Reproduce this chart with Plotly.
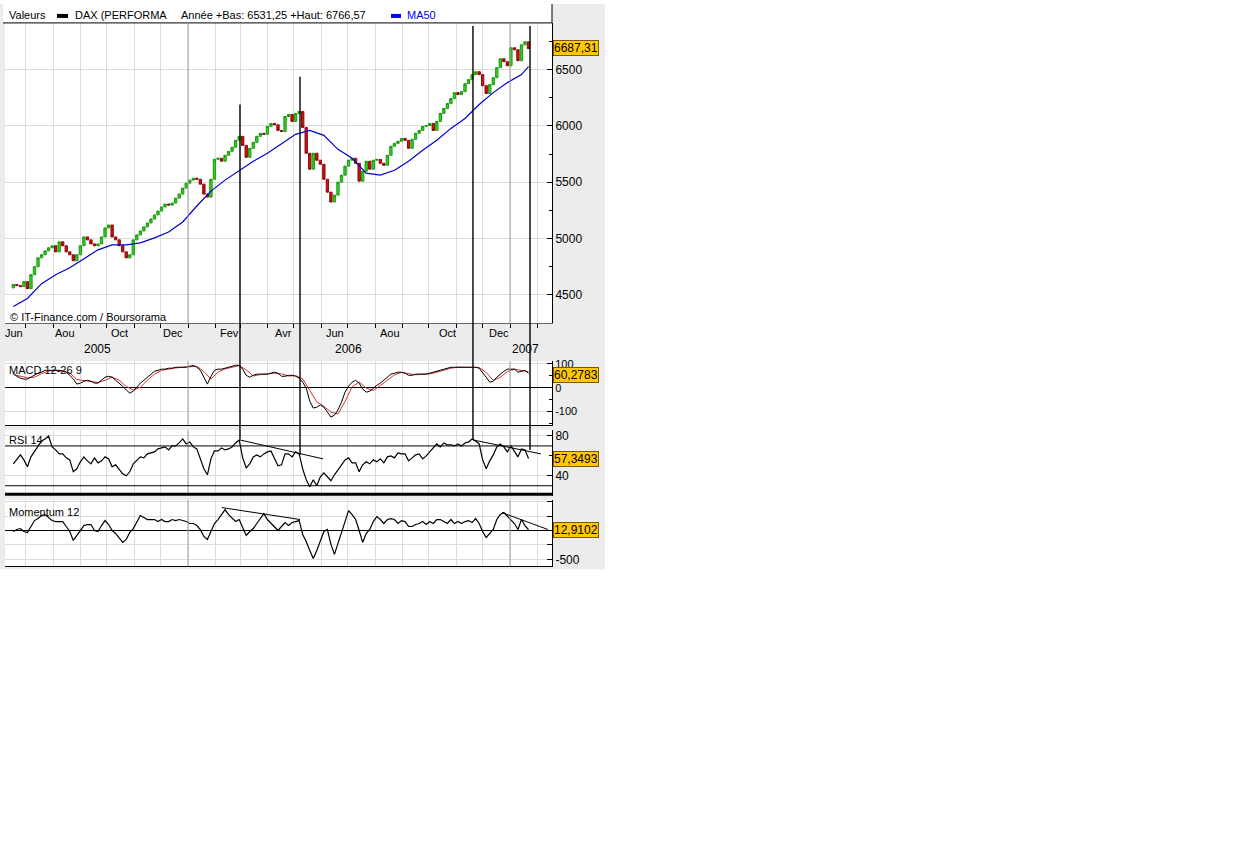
import plotly.graph_objects as go
import pandas as pd

W, H = 1235, 854

# ---------------- data ----------------
start_date = "2005-06-17"
step = "4D"
first_open = 4560

closes = [4590, 4580, 4571, 4615, 4553, 4677, 4748, 4827, 4854, 4889,
          4916, 4934, 4880, 4969, 4934, 4880, 4854, 4801, 4854, 4934,
          5013, 4987, 4951, 4934, 4951, 5013, 5093, 5119, 5013, 4987,
          4934, 4880, 4827, 4854, 4987, 5031, 5066, 5102, 5137, 5172,
          5208, 5243, 5279, 5305, 5296, 5314, 5358, 5394, 5447, 5491,
          5518, 5535, 5526, 5482, 5394, 5367, 5526, 5703, 5712, 5686,
          5739, 5774, 5810, 5872, 5907, 5827, 5721, 5801, 5854, 5907,
          5934, 5925, 5996, 6022, 6010, 5960, 5951, 6084, 6102, 6040,
          6111, 6128, 5987, 5757, 5615, 5757, 5695, 5659, 5526, 5411,
          5323, 5385, 5500, 5562, 5642, 5695, 5712, 5668, 5509, 5597,
          5686, 5615, 5695, 5702, 5668, 5650, 5739, 5819, 5845, 5863,
          5889, 5872, 5801, 5881, 5934, 5960, 5996, 6004, 6022, 5960,
          6040, 6111, 6155, 6199, 6243, 6296, 6279, 6305, 6376, 6412,
          6456, 6482, 6456, 6358, 6288, 6367, 6429, 6518, 6597, 6571,
          6535, 6695, 6677, 6580, 6721, 6748, 6687.31]

ma50 = [4394, 4465, 4597, 4677, 4739, 4819, 4898, 4942, 4942, 4960,
        5004, 5057, 5146, 5288, 5420, 5518, 5606, 5686, 5757, 5845,
        5925, 5960, 5916, 5792, 5712, 5580, 5562, 5606, 5686, 5783,
        5872, 5978, 6066, 6190, 6296, 6385, 6456, 6527]

macd = [61, 48, 40, 36, 36, 44, 52, 61, 65, 73,
        73, 73, 73, 73, 69, 65, 52, 36, 15, 19,
        27, 31, 27, 19, 19, 31, 44, 48, 44, 31,
        19, 6, -10, -23, -15, 2, 19, 31, 44, 57,
        69, 73, 78, 78, 82, 82, 86, 86, 86, 86,
        90, 94, 86, 73, 44, 15, 48, 73, 78, 78,
        82, 86, 90, 94, 94, 78, 52, 44, 52, 57,
        57, 57, 57, 61, 65, 61, 48, 48, 52, 52,
        48, 40, 23, -2, -57, -86, -82, -73, -82, -103,
        -124, -116, -94, -61, -19, 6, 23, 31, 19, -6,
        -19, -15, -2, 10, 19, 31, 44, 57, 61, 65,
        65, 61, 52, 52, 57, 57, 57, 57, 61, 65,
        69, 73, 78, 82, 86, 86, 86, 86, 86, 86,
        86, 86, 82, 65, 44, 23, 27, 44, 57, 69,
        78, 78, 78, 65, 69, 73, 60.28]

signal = [55, 50, 42, 44, 59, 70, 73, 71, 62, 34,
          30, 28, 22, 31, 45, 31, 5, -10, 2, 31,
          57, 73, 79, 83, 86, 87, 90, 68, 36, 66,
          79, 86, 93, 75, 49, 55, 57, 61, 58, 49,
          51, 37, -12, -60, -79, -103, -111, -58, 3, 24,
          -2, -12, 9, 31, 54, 64, 59, 54, 57, 58,
          65, 73, 82, 86, 86, 86, 85, 64, 31, 43,
          68, 78, 71, 67]

rsi = [52, 57, 61, 56, 49, 59, 64, 69, 75, 77,
       80, 69, 66, 62, 62, 58, 56, 44, 47, 54,
       59, 55, 52, 58, 53, 55, 59, 57, 49, 51,
       47, 42, 40, 44, 52, 56, 59, 58, 62, 63,
       64, 67, 68, 69, 66, 70, 70, 73, 77, 72,
       74, 69, 67, 57, 47, 41, 57, 65, 65, 68,
       66, 67, 69, 73, 76, 58, 48, 52, 59, 61,
       59, 62, 64, 65, 57, 50, 51, 62, 62, 59,
       64, 62, 47, 36, 29, 36, 30, 39, 43, 39,
       35, 41, 46, 52, 56, 58, 53, 53, 44, 51,
       54, 52, 56, 54, 57, 53, 59, 60, 58, 63,
       62, 62, 55, 58, 61, 62, 57, 60, 64, 69,
       72, 69, 73, 71, 71, 70, 72, 70, 73, 74,
       77, 75, 72, 56, 47, 55, 61, 69, 72, 69,
       64, 70, 64, 59, 67, 66, 57.35]

momentum = [-17, 17, 34, -17, -34, 69, 172, 207, 259, 276,
            224, 172, 155, 155, 155, 69, -17, -172, -86, 0,
            86, 103, 103, 0, -17, 86, 172, 103, 0, -52,
            -121, -207, -155, -34, 34, 138, 259, 224, 190, 190,
            190, 155, 190, 155, 155, 190, 172, 190, 172, 155,
            121, 121, 86, 17, -103, -155, -17, 121, 190, 276,
            362, 276, 207, 155, 190, 34, -86, -17, 34, 121,
            207, 293, 190, 121, 69, 0, 69, 138, 86, 138,
            155, 172, -69, -190, -345, -483, -345, -190, -17, 17,
            -241, -414, -224, -17, 190, 345, 276, 190, 0, -207,
            -52, 17, 155, 241, 190, 121, 190, 207, 190, 121,
            172, 155, 69, 69, 103, 121, 155, 103, 155, 121,
            190, 190, 155, 121, 190, 121, 155, 121, 155, 172,
            138, 207, 121, -17, -121, -52, 17, 190, 276, 310,
            241, 190, 121, 17, 190, 86, 12.91]

last_price_txt = "6687,31"
last_macd_txt = "60,2783"
last_rsi_txt = "57,3493"
last_mom_txt = "12,9102"

month_labels = ["Jun", "Aou", "Oct", "Dec", "Fev", "Avr", "Jun", "Aou", "Oct", "Dec"]
month_label_dates = ["2005-06-18", "2005-08-15", "2005-10-15", "2005-12-15", "2006-02-17",
                     "2006-04-19", "2006-06-17", "2006-08-18", "2006-10-22", "2006-12-20"]
year_labels = ["2005", "2006", "2007"]
year_label_dates = ["2005-09-20", "2006-07-02", "2007-01-18"]

# ---------------- derived inputs for the library ----------------
dates = pd.date_range(start_date, periods=len(closes), freq=step)
opens = [first_open] + closes[:-1]
highs = [max(o, c) for o, c in zip(opens, closes)]
lows = [min(o, c) for o, c in zip(opens, closes)]
ma_idx = list(range(0, len(dates), 4)) + [len(dates) - 1]
ma_dates = [dates[i] for i in ma_idx]
sig_dates = dates[::2]

X_RANGE = ["2005-06-07 14:00", "2007-02-17 14:00"]


def py(p):
    return 1 - p / H


def px(p):
    return p / W


def ydom(top, bot):
    return [1 - bot / H, 1 - top / H]


fig = go.Figure()

fig.add_trace(go.Candlestick(
    x=dates, open=opens, high=highs, low=lows, close=closes,
    increasing=dict(line=dict(color="#1c9a12", width=1), fillcolor="#33d11f"),
    decreasing=dict(line=dict(color="#8c0a0a", width=1), fillcolor="#d01010"),
    whiskerwidth=0, xaxis="x", yaxis="y", hoverinfo="skip"))
fig.add_trace(go.Scatter(x=ma_dates, y=ma50, mode="lines",
                         line=dict(color="#0000cc", width=1.2), xaxis="x", yaxis="y"))

fig.add_trace(go.Scatter(x=sig_dates, y=signal, mode="lines",
                         line=dict(color="#cc3333", width=1), xaxis="x2", yaxis="y2"))
fig.add_trace(go.Scatter(x=dates, y=macd, mode="lines",
                         line=dict(color="#000000", width=1), xaxis="x2", yaxis="y2"))

fig.add_trace(go.Scatter(x=dates, y=rsi, mode="lines",
                         line=dict(color="#000000", width=1.2), xaxis="x3", yaxis="y3"))
fig.add_trace(go.Scatter(x=dates, y=momentum, mode="lines",
                         line=dict(color="#000000", width=1.2), xaxis="x4", yaxis="y4"))

GRID = "#dcdcdc"
common_x = dict(type="date", range=X_RANGE, showgrid=True, gridcolor=GRID, gridwidth=1,
                dtick="M1", tick0="2005-06-01", zeroline=False, domain=[px(5), px(552)],
                showticklabels=False, fixedrange=True)
common_y = dict(side="right", ticks="inside", ticklen=5, tickcolor="#000",
                showgrid=True, gridcolor=GRID, showline=True, linecolor="#000",
                tickfont=dict(size=12), fixedrange=True)

layout = dict(
    width=W, height=H, autosize=False,
    margin=dict(l=0, r=0, t=0, b=0),
    paper_bgcolor="#ffffff", plot_bgcolor="#ffffff",
    showlegend=False, hovermode=False, boxgap=0.05,
    font=dict(family="Liberation Sans, Arial, sans-serif", size=11, color="#000"),
    xaxis=dict(**common_x, anchor="y", ticks="outside", ticklen=4, tickcolor="#000",
               showline=True, linecolor="#666", rangeslider=dict(visible=False)),
    xaxis2=dict(**common_x, anchor="y2", matches="x", ticks="", showline=True, linecolor="#000"),
    xaxis3=dict(**common_x, anchor="y3", matches="x", ticks="", showline=False),
    xaxis4=dict(**common_x, anchor="y4", matches="x", ticks="", showline=True, linecolor="#000"),
    yaxis=dict(**common_y, domain=ydom(19, 321), anchor="x", range=[4243, 6916],
               tickmode="linear", tick0=4500, dtick=500, zeroline=False,
               minor=dict(dtick=250, tick0=4500, ticks="inside", ticklen=3, tickcolor="#000", showgrid=False)),
    yaxis2=dict(**common_y, domain=ydom(359, 423), anchor="x2", range=[-157.5, 111],
                tickmode="array", tickvals=[-100, 0, 100], ticktext=["-100", "0", "100"],
                zeroline=True, zerolinecolor="#000", zerolinewidth=1,
                minor=dict(tickmode="array", tickvals=[-150, -50, 50], ticks="inside", ticklen=3,
                           tickcolor="#000", showgrid=False)),
    yaxis3=dict(**common_y, domain=ydom(428, 494), anchor="x3", range=[20, 86],
                tickmode="array", tickvals=[40, 80], ticktext=["40", "80"], zeroline=False,
                minor=dict(tickmode="array", tickvals=[60], ticks="inside", ticklen=3,
                           tickcolor="#000", showgrid=False)),
    yaxis4=dict(**common_y, domain=ydom(498, 565), anchor="x4", range=[-621, 534],
                tickmode="array", tickvals=[-500, -250, 0, 250, 500],
                ticktext=["-500", "", "", "", ""],
                zeroline=True, zerolinecolor="#000", zerolinewidth=1),
)
fig.update_layout(**layout)
fig.update_layout(yaxis2_tickfont=dict(size=11))

shapes = []
# grey chart background and white panels
shapes.append(dict(type="rect", xref="paper", yref="paper", x0=0, x1=px(605), y0=py(568), y1=1,
                   fillcolor="#ececec", line=dict(width=0), layer="below"))
for (l, t, r, b) in [(3, 0, 552, 19), (5, 19, 552, 321), (5, 359, 552, 423),
                     (5, 428, 552, 494), (5, 498, 552, 565)]:
    shapes.append(dict(type="rect", xref="paper", yref="paper", x0=px(l), x1=px(r),
                       y0=py(b), y1=py(t), fillcolor="#ffffff", line=dict(width=0), layer="below"))
# top border of main panel and right border of legend strip
shapes.append(dict(type="line", xref="paper", yref="paper", x0=px(3), x1=px(552), y0=py(19), y1=py(19),
                   line=dict(color="#000", width=1)))
shapes.append(dict(type="line", xref="paper", yref="paper", x0=px(552), x1=px(552), y0=py(19), y1=1,
                   line=dict(color="#000", width=1)))
# legend colour bars
shapes.append(dict(type="rect", xref="paper", yref="paper", x0=px(57), x1=px(68), y0=py(14), y1=py(10),
                   fillcolor="#000", line=dict(width=0)))
shapes.append(dict(type="rect", xref="paper", yref="paper", x0=px(391), x1=px(401), y0=py(14), y1=py(10),
                   fillcolor="#0000ff", line=dict(width=0)))
# darker year grid lines (per panel, in paper pixels)
for d in ["2006-01-01", "2007-01-01"]:
    for (t, b) in [(19, 321), (359, 423), (428, 494), (498, 565)]:
        shapes.append(dict(type="line", xref="x", yref="paper", x0=d, x1=d, y0=py(b), y1=py(t),
                           line=dict(color="#a0a0a0", width=1), layer="above"))
# RSI 70 / 30 lines and thick bottom
for lvl in [70, 30]:
    shapes.append(dict(type="line", xref="paper", yref="y3", x0=px(5), x1=px(552), y0=lvl, y1=lvl,
                       line=dict(color="#000", width=1)))
shapes.append(dict(type="line", xref="paper", yref="paper", x0=px(5), x1=px(552), y0=py(492.5), y1=py(492.5),
                   line=dict(color="#000", width=3)))
# hand-drawn trend lines
for (d0, v0, d1, v1) in [("2006-02-28 22:00", 76, "2006-06-03", 57),
                         ("2006-11-20", 76, "2007-02-05", 62)]:
    shapes.append(dict(type="line", xref="x3", yref="y3", x0=d0, y0=v0, x1=d1, y1=v1,
                       line=dict(color="#000", width=1)))
for (d0, v0, d1, v1) in [("2006-02-08 12:00", 397, "2006-05-07 23:00", 190),
                         ("2006-12-22 22:00", 310, "2007-02-13", 17)]:
    shapes.append(dict(type="line", xref="x4", yref="y4", x0=d0, y0=v0, x1=d1, y1=v1,
                       line=dict(color="#000", width=1)))
# hand-drawn vertical lines
for (d, top, bot) in [("2006-02-28 22:00", 101, 437), ("2006-05-07 23:00", 73, 453),
                      ("2006-11-20", 22, 437), ("2007-01-23 16:00", 22, 448)]:
    shapes.append(dict(type="line", xref="x", yref="paper", x0=d, x1=d, y0=py(bot), y1=py(top),
                       line=dict(color="#000", width=1.4), layer="above"))
fig.update_layout(shapes=shapes)

ann = []


def txt(x, y, s, size=11, color="#000", anchor="left"):
    ann.append(dict(xref="paper", yref="paper", x=px(x), y=py(y), text=s, showarrow=False,
                    xanchor=anchor, yanchor="middle", font=dict(size=size, color=color)))


txt(7, 11, "Valeurs")
txt(73, 11, "DAX (PERFORMA")
txt(179, 11, "Année +Bas: 6531,25 +Haut: 6766,57")
txt(405, 11, "MA50", color="#0000ee")
txt(8, 314, "© IT-Finance.com / Boursorama")
txt(7, 368, "MACD 12-26 9")
txt(7, 438, "RSI 14")
txt(7, 510, "Momentum 12")

for lab, d in zip(month_labels, month_label_dates):
    ann.append(dict(xref="x", yref="paper", x=d, y=py(331), text=lab, showarrow=False,
                    xanchor="center", yanchor="middle", font=dict(size=11)))
for lab, d in zip(year_labels, year_label_dates):
    ann.append(dict(xref="x", yref="paper", x=d, y=py(347), text=lab, showarrow=False,
                    xanchor="center", yanchor="middle", font=dict(size=12)))

for s, y in [(last_price_txt, 44), (last_macd_txt, 373), (last_rsi_txt, 457), (last_mom_txt, 528)]:
    ann.append(dict(xref="paper", yref="paper", x=px(553), y=py(y), text=s, showarrow=False,
                    xanchor="left", yanchor="middle", font=dict(size=12, color="#000"),
                    bgcolor="#ffc800", bordercolor="#7a5a00", borderwidth=1, borderpad=0))
fig.update_layout(annotations=ann)

fig.write_html("out.html", config={"displayModeBar": False},
               post_script="document.body.style.margin='0';")
